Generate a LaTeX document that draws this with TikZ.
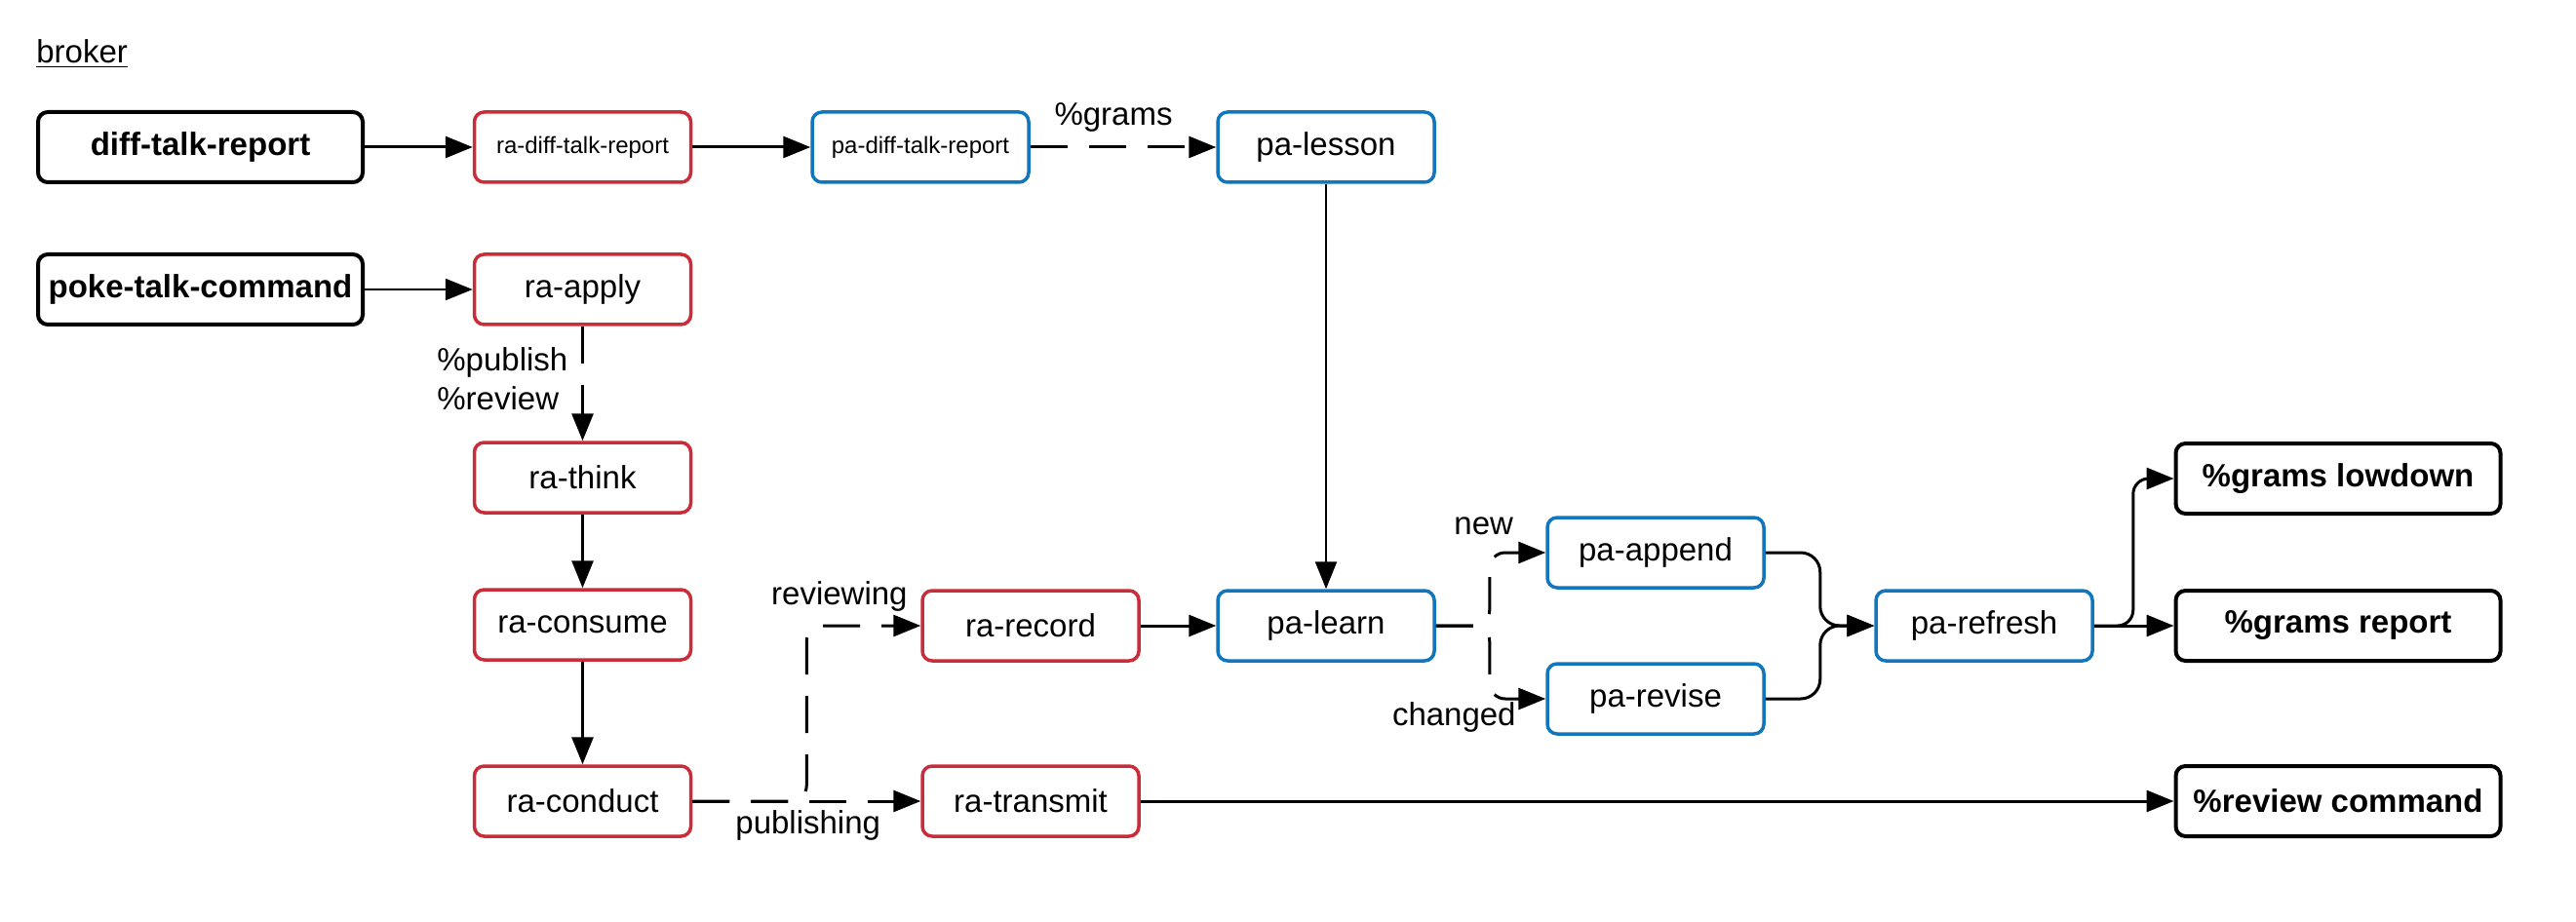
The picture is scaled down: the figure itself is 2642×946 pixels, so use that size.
\documentclass[tikz,border=0pt]{standalone}
\usepackage{fontspec}
\setmainfont{Liberation Sans}
\usetikzlibrary{arrows.meta}
\definecolor{ared}{RGB}{201,45,57}
\definecolor{ablue}{RGB}{17,118,188}
\begin{document}
\begin{tikzpicture}[x=0.5pt,y=-0.5pt,
  box/.style={draw,line width=1.75pt,rounded corners=5pt,minimum width=111pt,minimum height=36pt,inner sep=0pt,font=\fontsize{16.5}{20}\selectfont},
  redbox/.style={box,draw=ared},
  bluebox/.style={box,draw=ablue},
  blackbox/.style={box,draw=black,line width=2pt,minimum width=166.5pt,font=\fontsize{16.5}{20}\selectfont\bfseries},
  smalltext/.style={font=\fontsize{12}{14}\selectfont},
  conn/.style={line width=1.5pt,-{Triangle[length=14pt,width=11pt]}},
  thinconn/.style={conn,line width=1.2pt},
  dconn/.style={conn,dash pattern=on 19pt off 11pt},
  lbl/.style={inner sep=0pt,font=\fontsize{16.5}{20}\selectfont}]
\useasboundingbox[fill=white] (0,0) rectangle (2642,946);

% title
\node[lbl,anchor=base west] (broker) at (37,65) {\underline{broker}};

% nodes
\node[blackbox] (dtr) at (205.5,151) {diff-talk-report};
\node[redbox,smalltext] (radtr) at (597.5,151) {ra-diff-talk-report};
\node[bluebox,smalltext] (padtr) at (944,151) {pa-diff-talk-report};
\node[bluebox] (palesson) at (1360,151) {pa-lesson};

\node[blackbox] (ptc) at (205.5,297) {poke-talk-command};
\node[redbox] (raapply) at (597.5,297) {ra-apply};
\node[redbox] (rathink) at (597.5,490) {ra-think};
\node[redbox] (raconsume) at (597.5,641) {ra-consume};
\node[redbox] (raconduct) at (597.5,822) {ra-conduct};

\node[redbox] (rarecord) at (1057,642) {ra-record};
\node[redbox] (ratransmit) at (1057,822) {ra-transmit};
\node[bluebox] (palearn) at (1360,642) {pa-learn};
\node[bluebox] (paappend) at (1698,567) {pa-append};
\node[bluebox] (parevise) at (1698,717) {pa-revise};
\node[bluebox] (parefresh) at (2035,642) {pa-refresh};

\node[blackbox] (glow) at (2398,491) {\%grams lowdown};
\node[blackbox] (grep) at (2398,642) {\%grams report};
\node[blackbox] (rcmd) at (2398,822) {\%review command};

% connectors
\draw[conn] (dtr) -- (radtr);
\draw[conn] (radtr) -- (padtr);
\draw[dconn] (padtr) -- (palesson);
\draw[thinconn] (ptc) -- (raapply);
\draw[dconn] (raapply) -- (rathink);
\draw[conn] (rathink) -- (raconsume);
\draw[conn] (raconsume) -- (raconduct);
\draw[dconn,rounded corners=8pt] (raconduct.east) -- ++(117,0) |- (rarecord.west);
\draw[dconn] (raconduct) -- (ratransmit);
\draw[conn] (rarecord) -- (palearn);
\draw[thinconn] (palesson) -- (palearn);
\draw[dconn,rounded corners=8pt] (palearn.east) -- ++(55,0) |- (paappend.west);
\draw[dconn,rounded corners=8pt] (palearn.east) -- ++(55,0) |- (parevise.west);
\draw[conn,rounded corners=10pt] (paappend.east) -- ++(56,0) |- (parefresh.west);
\draw[conn,rounded corners=10pt] (parevise.east) -- ++(56,0) |- (parefresh.west);
\draw[conn,rounded corners=8pt] (parefresh.east) -- ++(40,0) |- (glow.west);
\draw[conn] (parefresh) -- (grep);
\draw[conn] (ratransmit) -- (rcmd);

% labels
\node[lbl,anchor=base] (lgrams) at (1142,129) {\%grams};
\node[lbl,anchor=west,align=left] (lpub) at (448,389) {\%publish\\\%review};
\node[lbl,anchor=base east] (lrev) at (931,620) {reviewing};
\node[lbl,anchor=base west] (lpubl) at (754,855) {publishing};
\node[lbl,anchor=base west] (lnew) at (1491,548) {new};
\node[lbl,anchor=base east] (lchg) at (1555,744) {changed};
\end{tikzpicture}
\end{document}
